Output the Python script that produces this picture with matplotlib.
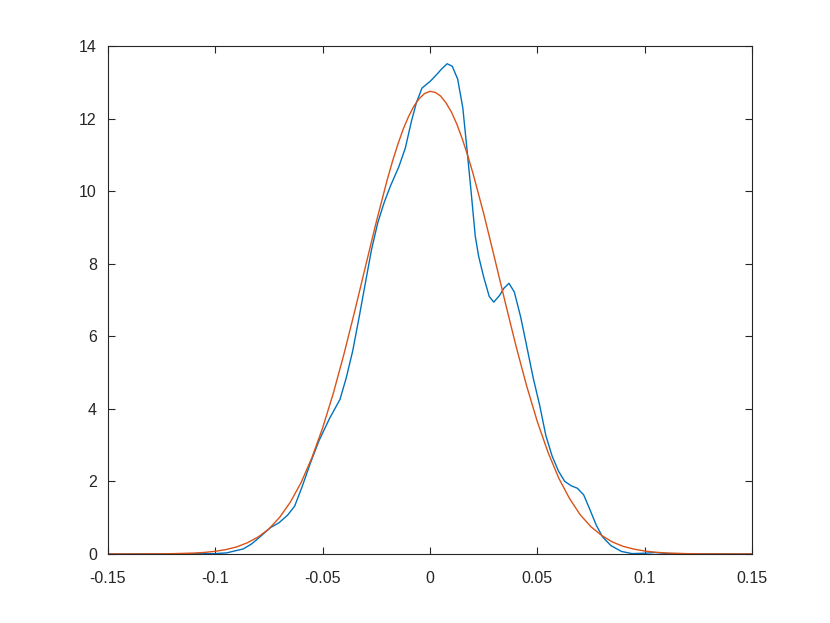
import numpy as np
import matplotlib
matplotlib.use('Agg')
import matplotlib.pyplot as plt

x_blue = [-0.15, -0.12, -0.1, -0.0947, -0.0869, -0.083, -0.079, -0.0742, -0.0703,
          -0.0663, -0.063, -0.0595, -0.0556, -0.0517, -0.0468, -0.0419, -0.039,
          -0.036, -0.033, -0.0301, -0.0272, -0.0243, -0.0213, -0.0184, -0.0145,
          -0.0115, -0.0086, -0.0063, -0.0037, 0.0002, 0.0031, 0.0055, 0.008,
          0.0104, 0.0129, 0.0153, 0.0172, 0.0192, 0.0211, 0.0227, 0.025, 0.0276,
          0.0297, 0.0325, 0.0344, 0.0368, 0.0393, 0.0423, 0.0452, 0.0481, 0.0511,
          0.054, 0.0569, 0.0599, 0.0628, 0.0658, 0.0687, 0.0716, 0.0746, 0.0775,
          0.0804, 0.0843, 0.0892, 0.0941, 0.1, 0.1049, 0.1108, 0.1205, 0.15]
y_blue = [0.0, 0.0, 0.01, 0.03, 0.14, 0.28, 0.48, 0.73, 0.86,
          1.07, 1.32, 1.86, 2.52, 3.12, 3.73, 4.26, 4.85,
          5.59, 6.52, 7.46, 8.39, 9.13, 9.69, 10.14, 10.67,
          11.18, 11.93, 12.44, 12.84, 13.03, 13.21, 13.37, 13.51,
          13.44, 13.09, 12.30, 11.18, 9.97, 8.76, 8.20, 7.64, 7.10,
          6.94, 7.13, 7.32, 7.46, 7.22, 6.52, 5.69, 4.85, 4.10,
          3.26, 2.70, 2.28, 2.00, 1.88, 1.81, 1.63, 1.21, 0.79,
          0.47, 0.23, 0.07, 0.01, 0.02, 0.04, 0.01, 0.0, 0.0]

# Red: fitted normal curve
x_red = [-0.15, -0.14, -0.13, -0.12, -0.11, -0.105, -0.1, -0.095, -0.09, -0.085,
         -0.08, -0.075, -0.07, -0.065, -0.06, -0.055, -0.05, -0.045, -0.04,
         -0.035, -0.03, -0.025, -0.02, -0.0175, -0.015, -0.0125, -0.01, -0.0075,
         -0.005, -0.0025, 0.0, 0.0025, 0.005, 0.0075, 0.01, 0.0125,
         0.015, 0.0175, 0.02, 0.025, 0.03, 0.035, 0.04, 0.045, 0.05, 0.055, 0.06, 0.065,
         0.07, 0.075, 0.08, 0.085, 0.09, 0.095, 0.1, 0.105, 0.11, 0.12, 0.13,
         0.14, 0.15]
y_red = [0.0, 0.0005, 0.002, 0.008, 0.025, 0.043, 0.074, 0.121, 0.195, 0.31,
         0.47, 0.69, 1.01, 1.43, 1.97, 2.65, 3.47, 4.43, 5.52,
         6.70, 7.93, 9.15, 10.29, 10.81, 11.28, 11.70, 12.05, 12.34,
         12.55, 12.69, 12.75, 12.72, 12.62, 12.43, 12.18, 11.85,
         11.45, 11.00, 10.50, 9.39, 8.18, 6.95, 5.75, 4.64, 3.65, 2.80, 2.09, 1.53,
         1.08, 0.75, 0.51, 0.33, 0.21, 0.134, 0.081, 0.048, 0.028, 0.0085, 0.002,
         0.0005, 0.0]

x_ticks = [-0.15, -0.1, -0.05, 0, 0.05, 0.1, 0.15]
x_labels = ['-0.15', '-0.1', '-0.05', '0', '0.05', '0.1', '0.15']
y_ticks = [0, 2, 4, 6, 8, 10, 12, 14]

plt.rcParams['font.family'] = ['Liberation Sans', 'DejaVu Sans']

fig = plt.figure(figsize=(8.3, 6.23), dpi=100)
ax = fig.add_axes([0.13, 0.1108, 0.776, 0.8154])

ax.plot(x_blue, y_blue, color='#0072BD', linewidth=1.0)
ax.plot(x_red, y_red, color='#D95319', linewidth=1.0)

ax.set_xlim(-0.15, 0.15)
ax.set_ylim(0, 14)
ax.set_xticks(x_ticks)
ax.set_xticklabels(x_labels)
ax.set_yticks(y_ticks)

edge = '#262626'
for s in ax.spines.values():
    s.set_color(edge)
    s.set_linewidth(0.8)
ax.tick_params(direction='in', top=True, right=True, length=5, width=0.8,
               color=edge, labelcolor=edge, labelsize=11.5)
ax.tick_params(axis='x', pad=12)
ax.tick_params(axis='y', pad=8)

plt.savefig('out.png', dpi=100)
